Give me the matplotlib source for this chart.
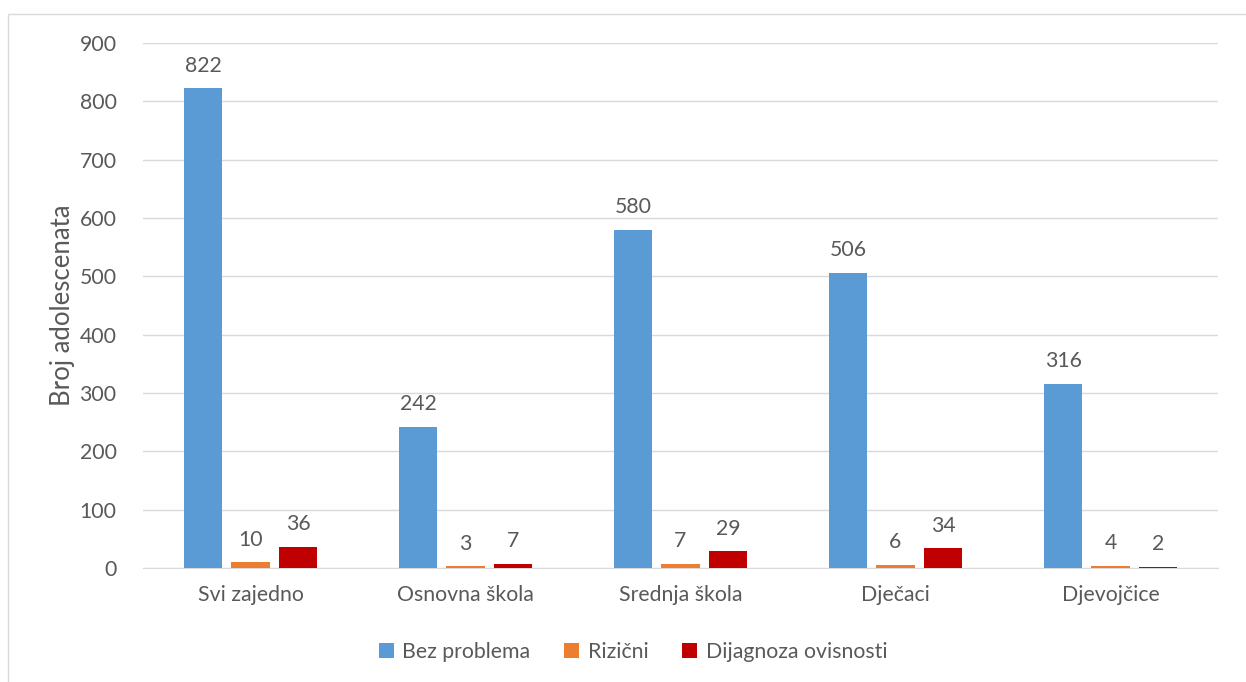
import numpy as np
import matplotlib.pyplot as plt
from matplotlib.patches import Rectangle

categories = ['Svi zajedno', 'Osnovna škola', 'Srednja škola', 'Dječaci', 'Djevojčice']
bez_problema = [822, 242, 580, 506, 316]
rizicni = [10, 3, 7, 6, 4]
dijagnoza = [36, 7, 29, 34, 2]
series_names = ['Bez problema', 'Rizični', 'Dijagnoza ovisnosti']
colors = ['#5B9BD5', '#ED7D31', '#C00000']

plt.rcParams['font.family'] = ['Lato', 'DejaVu Sans']
txt = '#595959'
fs = 15.3

fig = plt.figure(figsize=(12.46, 6.82), dpi=100)
ax = fig.add_axes([143/1246, 1-568/682, 1075/1246, 525/682])

x = np.arange(len(categories))
w = 0.177
step = 0.221
for i, (vals, name, c) in enumerate(zip([bez_problema, rizicni, dijagnoza], series_names, colors)):
    bars = ax.bar(x + (i-1)*step, vals, w, color=c, label=name, zorder=3)
    for b, v in zip(bars, vals):
        ax.annotate(str(v), (b.get_x()+b.get_width()/2, v), xytext=(0, 9),
                    textcoords='offset points', ha='center', va='bottom',
                    fontsize=fs, color=txt)

ax.set_xlim(-0.5, len(categories)-0.5)
ax.set_ylim(0, 900)
ax.set_yticks(range(0, 901, 100))
ax.set_xticks(x)
ax.set_xticklabels(categories)
ax.tick_params(axis='both', length=0, labelsize=fs, colors=txt)
ax.tick_params(axis='x', pad=12)
ax.tick_params(axis='y', pad=19)
ax.grid(axis='y', color='#d9d9d9', lw=1, zorder=0)
for s in ['top', 'right', 'left']:
    ax.spines[s].set_visible(False)
ax.spines['bottom'].set_color('#d9d9d9')
ax.set_ylabel('Broj adolescenata', fontsize=18.5, color=txt)
ax.yaxis.set_label_coords(-0.063, 0.5)

fig.legend(loc='center', bbox_to_anchor=(633/1246, 1-652/682), ncol=3, frameon=False,
           fontsize=fs, labelcolor=txt, handlelength=0.7, handleheight=0.7,
           handletextpad=0.4, columnspacing=1.6)

fig.patches.append(Rectangle((8/1246, -0.01), 1.02, 1-14/682+0.01, transform=fig.transFigure,
                             fill=False, edgecolor='#d9d9d9', lw=1))

fig.savefig('out.png', dpi=100)
